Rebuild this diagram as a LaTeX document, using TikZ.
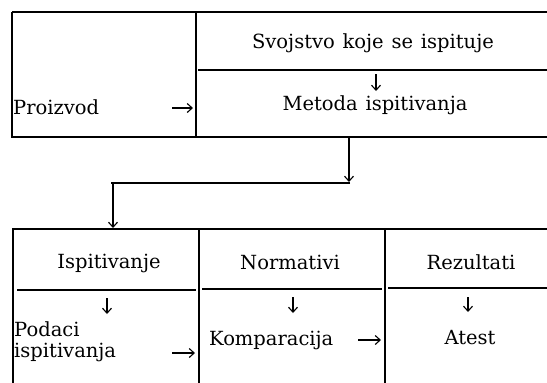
\documentclass[tikz,border=0pt]{standalone}
\usepackage{fontspec}
\setmainfont{DejaVu Serif}
\usetikzlibrary{arrows.meta}
\tikzset{
  frame/.style={line width=1.3pt, black},
  arr/.style={line width=1.2pt, -{Straight Barb[length=5pt,width=9pt,line width=1.1pt]}},
  lbl/.style={inner sep=0pt, font=\fontsize{19.5pt}{20.5pt}\selectfont},
}
\begin{document}
\begin{tikzpicture}[x=1pt,y=-1pt]
\useasboundingbox[fill=white] (0,0) rectangle (547,383);
% top block frame
\draw[frame] (12,12) -- (547,12);
\draw[frame] (12,12) -- (12,138);
\draw[frame] (196,12) -- (196,136);
\draw[frame] (198,70) -- (547,70);
\draw[frame] (12,137) -- (547,137);
% bottom block frame
\draw[frame] (12,229) -- (547,229);
\draw[frame] (13,229) -- (13,383);
\draw[frame] (199,229) -- (199,383);
\draw[frame] (385,229) -- (385,383);
\draw[frame] (17,290) -- (196,290);
\draw[frame] (202,289) -- (382,289);
\draw[frame] (388,288) -- (547,288);
% texts
\node[lbl] (svo) at (373,43) {Svojstvo\hspace{0.4em}koje\hspace{0.4em}se\hspace{0.4em}ispituje};
\node[lbl] (met) at (375,105) {Metoda\hspace{0.4em}ispitivanja};
\node[lbl, anchor=west] (pro) at (13,107) {Proizvod};
\node[lbl] (isp) at (109,263) {Ispitivanje};
\node[lbl] (nor) at (290,262) {Normativi};
\node[lbl] (rez) at (471,262) {Rezultati};
\node[lbl, anchor=west, align=left] (pod) at (14,342) {Podaci\\ispitivanja};
\node[lbl, anchor=west] (kom) at (209,340) {Komparacija};
\node[lbl] (ate) at (470,338) {Atest};
% arrow end points
\coordinate (a1s) at (172,108); \coordinate (a1e) at (193,108);
\coordinate (a2s) at (376,74);  \coordinate (a2e) at (376,91);
\coordinate (c1s) at (349,138); \coordinate (c1e) at (349,182);
\coordinate (c2s) at (350,183); \coordinate (c2e) at (111,183);
\coordinate (c3s) at (113,183); \coordinate (c3e) at (113,228);
\coordinate (b1s) at (107,298); \coordinate (b1e) at (107,314);
\coordinate (b2s) at (293,297); \coordinate (b2e) at (293,313);
\coordinate (b3s) at (468,297); \coordinate (b3e) at (468,312);
\coordinate (h1s) at (172,353); \coordinate (h1e) at (195,353);
\coordinate (h2s) at (358,340); \coordinate (h2e) at (381,340);
% arrows
\draw[arr] (a1s) -- (a1e);
\draw[arr] (a2s) -- (a2e);
\draw[arr] (c1s) -- (c1e);
\draw[frame] (c2s) -- (c2e);
\draw[arr] (c3s) -- (c3e);
\draw[arr] (b1s) -- (b1e);
\draw[arr] (b2s) -- (b2e);
\draw[arr] (b3s) -- (b3e);
\draw[arr] (h1s) -- (h1e);
\draw[arr] (h2s) -- (h2e);
\end{tikzpicture}
\end{document}
